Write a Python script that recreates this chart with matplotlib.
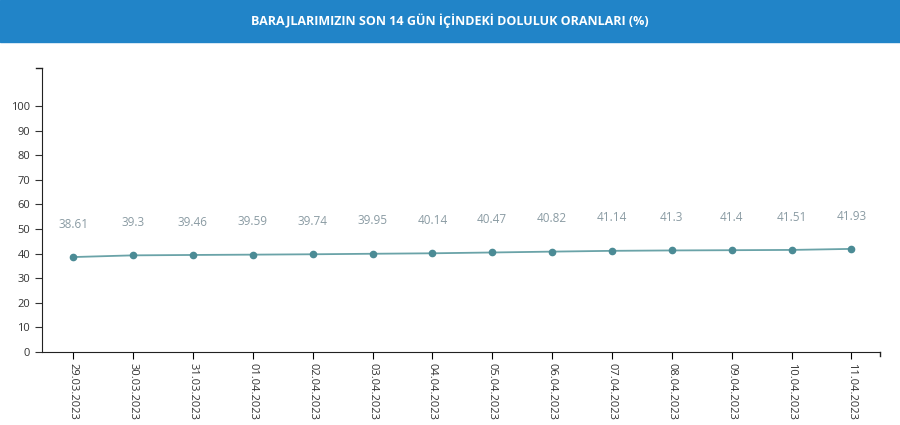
import matplotlib.pyplot as plt
from matplotlib.patches import Rectangle

dates = ['29.03.2023', '30.03.2023', '31.03.2023', '01.04.2023', '02.04.2023',
         '03.04.2023', '04.04.2023', '05.04.2023', '06.04.2023', '07.04.2023',
         '08.04.2023', '09.04.2023', '10.04.2023', '11.04.2023']
values = [38.61, 39.3, 39.46, 39.59, 39.74, 39.95, 40.14, 40.47, 40.82, 41.14,
          41.3, 41.4, 41.51, 41.93]
title = 'BARAJLARIMIZIN SON 14 GÜN İÇİNDEKİ DOLULUK ORANLARI (%)'

plt.rcParams['font.family'] = ['Open Sans', 'DejaVu Sans']
fig = plt.figure(figsize=(9, 4.25), dpi=100)

# blue header band
fig.patches.append(Rectangle((0, 0.901), 1, 0.099, transform=fig.transFigure,
                             color='#2184c8', zorder=0))
fig.text(0.5, 0.951, title, color='white', fontsize=9, fontweight='bold',
         ha='center', va='center')

ax = fig.add_axes([0.0467, 0.1718, 0.9313, 0.6682])
x = list(range(len(dates)))
ax.plot(x, values, color='#6aa3a8', lw=1.3, marker='o', ms=4.5,
        mfc='#4b8b95', mec='#4b8b95', clip_on=False)
for xi, v in zip(x, values):
    ax.annotate(f'{v:g}', (xi, v), xytext=(0, 19), textcoords='offset points',
                ha='center', va='bottom', fontsize=8.5, color='#8a9ba3')

ax.set_xlim(-0.52, 13.48)
ax.set_ylim(0, 115.5)
ax.set_yticks(range(0, 101, 10))
ax.set_xticks(x)
ax.set_xticklabels(dates, rotation=270, fontsize=8, color='#333333')
ax.tick_params(axis='y', labelsize=8, colors='#333333', length=5)
ax.tick_params(axis='x', length=5, pad=3)
for s in ['top', 'right']:
    ax.spines[s].set_visible(False)
for s in ['left', 'bottom']:
    ax.spines[s].set_color('#222222')
# small cap at top of y axis
ax.plot([-0.62, -0.52], [115.5, 115.5], color='#222222', lw=1, clip_on=False)
ax.plot([13.48, 13.48], [0, -1.8], color='#222222', lw=1, clip_on=False)

fig.savefig('out.png', dpi=100)
